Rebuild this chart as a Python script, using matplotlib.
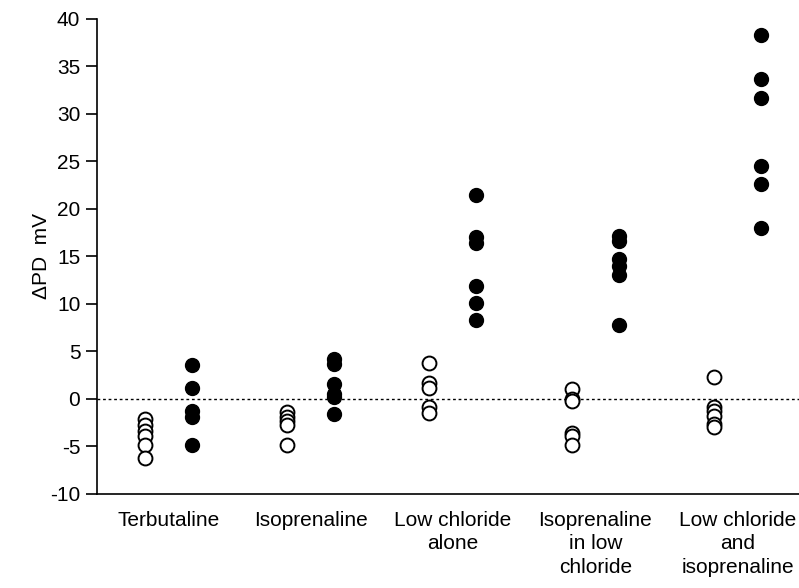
import matplotlib.pyplot as plt

plt.rcParams['font.family'] = ['Liberation Sans Narrow', 'Liberation Sans', 'DejaVu Sans']
plt.rcParams['axes.unicode_minus'] = False

groups = ['Terbutaline', 'Isoprenaline', 'Low chloride\nalone',
          'Isoprenaline\nin low\nchloride', 'Low chloride\nand\nisoprenaline']

# open circles (control) and filled circles (treatment), delta PD in mV
open_vals = [
    [-2.1, -2.7, -3.4, -3.9, -4.8, -6.2],
    [-1.4, -1.9, -2.3, -2.7, -4.9],
    [3.8, 1.7, 1.2, -0.9, -1.5],
    [1.0, 0.0, -0.2, -3.6, -3.9, -4.9],
    [2.3, -0.9, -1.3, -1.8, -2.6, -3.0],
]
filled_vals = [
    [3.6, 1.1, -1.3, -1.9, -4.8],
    [4.2, 3.7, 1.6, 0.5, 0.2, -1.6],
    [21.5, 17.0, 16.4, 11.9, 10.1, 8.3],
    [17.2, 16.6, 14.7, 14.0, 13.1, 7.8],
    [38.3, 33.7, 31.7, 24.5, 22.6, 18.0],
]

fig = plt.figure(figsize=(7.99, 5.88), dpi=100)
ax = fig.add_axes([0.1214, 0.16, 0.8786, 0.8077])

off = 0.165
for i in range(len(groups)):
    ax.plot([i - off] * len(open_vals[i]), open_vals[i], 'o', ms=10,
            mfc='white', mec='black', mew=1.4, zorder=3)
    ax.plot([i + off] * len(filled_vals[i]), filled_vals[i], 'o', ms=10,
            mfc='black', mec='black', zorder=3)

ax.axhline(0, color='black', lw=1, ls=(0, (2, 2)), zorder=1)

ax.set_xlim(-0.5, 4.43)
ax.set_ylim(-10, 40)
ax.set_yticks(range(-10, 41, 5))
ax.set_xticks(range(len(groups)))
ax.set_xticklabels(groups, fontsize=15, linespacing=1.3)
ax.tick_params(axis='x', length=0, pad=12)
ax.tick_params(axis='y', length=8, width=1.2, labelsize=15, pad=4)
ax.set_ylabel('ΔPD  mV', fontsize=15)
ax.yaxis.set_label_coords(-0.066, 0.5)

for s in ['top', 'right']:
    ax.spines[s].set_visible(False)
for s in ['left', 'bottom']:
    ax.spines[s].set_linewidth(1.2)

plt.savefig('out.png')
